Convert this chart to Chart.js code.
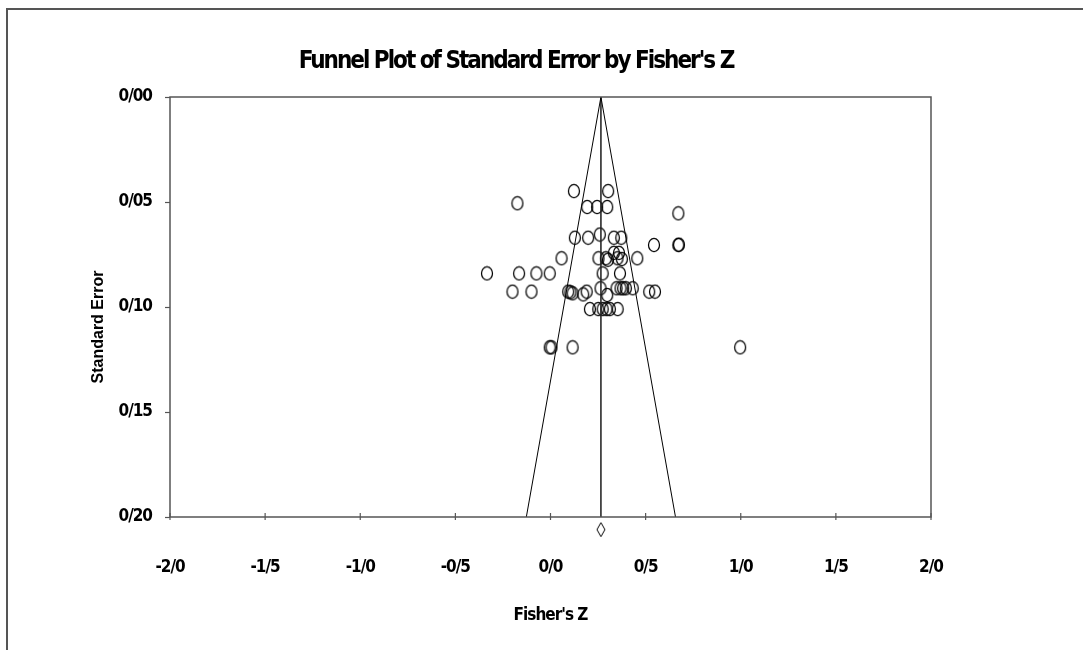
<!DOCTYPE html>
<html><head><meta charset="utf-8">
<script src="https://cdn.jsdelivr.net/npm/chart.js@4.4.1/dist/chart.umd.min.js"></script>
<style>html,body{margin:0;padding:0;background:#fff;overflow:hidden}#wrap{width:1083px;height:650px;position:relative}canvas{display:block}</style>
</head><body><div id="wrap"><canvas id="c" width="1083" height="650"></canvas></div>
<script>
const titleText = "Funnel Plot of Standard Error by Fisher's Z";
const xAxisTitle = "Fisher's Z";
const yAxisTitle = "Standard Error";
const xTickLabels = ['-2/0','-1/5','-1/0','-0/5','0/0','0/5','1/0','1/5','2/0'];
const yTickLabels = ['0/00','0/05','0/10','0/15','0/20'];

// observed studies: Fisher's Z and standard error
const studyZ = [0.123,0.303,-0.174,0.193,0.245,0.298,0.672,0.128,0.198,0.259,0.333,0.372,0.544,0.672,0.675,0.333,0.360,
  0.058,0.252,0.291,0.302,0.352,0.375,0.456,-0.334,-0.165,-0.074,-0.004,0.274,0.365,-0.200,-0.100,0.093,0.105,0.116,0.172,0.190,
  0.263,0.298,0.347,0.368,0.382,0.396,0.432,0.519,0.549,0.207,0.251,0.274,0.295,0.312,0.353,-0.004,0.005,0.116,0.997];
const studySE = [0.0448,0.0448,0.0506,0.0524,0.0524,0.0524,0.0554,0.0670,0.0670,0.0655,0.0670,0.0670,0.0705,0.0705,0.0703,0.0742,0.0742,
  0.0768,0.0768,0.0768,0.0775,0.0768,0.0772,0.0768,0.0840,0.0840,0.0840,0.0840,0.0840,0.0840,0.0927,0.0927,0.0927,0.0930,0.0935,0.0940,0.0927,
  0.0911,0.0943,0.0911,0.0911,0.0911,0.0911,0.0911,0.0927,0.0927,0.1010,0.1010,0.1010,0.1010,0.1010,0.1010,0.1192,0.1192,0.1192,0.1192];

// funnel (pooled estimate and 95% limits)
const funnelLeftZ = [0.265, -0.127];
const funnelRightZ = [0.265, 0.657];
const centerZ = [0.265, 0.265];
const funnelSE = [0, 0.2];
const summaryZ = [0.265];
const summarySE = [0.206];

function ellipseStyle(){
  const c = document.createElement('canvas'); c.width = 14; c.height = 16;
  const g = c.getContext('2d'); g.strokeStyle = '#000'; g.lineWidth = 1.25;
  g.beginPath(); g.ellipse(7, 8, 5.5, 6.6, 0, 0, Math.PI*2); g.stroke(); return c;
}
function diamondStyle(){
  const c = document.createElement('canvas'); c.width = 10; c.height = 16;
  const g = c.getContext('2d'); g.strokeStyle = '#000'; g.lineWidth = 1;
  g.beginPath(); g.moveTo(5,1); g.lineTo(9,8); g.lineTo(5,15); g.lineTo(1,8); g.closePath(); g.stroke(); return c;
}
const pts = studyZ.map((z,i)=>({x:z, y:studySE[i]}));
const mk = (xs, ys) => xs.map((x,i)=>({x:x, y:ys[i]}));
const NARROW = "'DejaVu Sans Condensed','Liberation Sans Narrow','Arial Narrow',sans-serif";
const GRAY = '#555';

const decor = {
  id:'decor',
  beforeDraw(chart){
    const ctx = chart.ctx; ctx.save();
    ctx.fillStyle='#fff'; ctx.fillRect(0,0,chart.width,chart.height);
    ctx.strokeStyle=GRAY; ctx.lineWidth=2;
    ctx.beginPath(); ctx.moveTo(7,650); ctx.lineTo(7,9); ctx.lineTo(1083,9); ctx.stroke();
    ctx.restore();
    try { ctx.letterSpacing = '-1px'; } catch(e){}
  },
  afterDraw(chart){
    const ctx = chart.ctx, a = chart.chartArea, xs = chart.scales.x;
    ctx.save();
    ctx.strokeStyle=GRAY; ctx.lineWidth=1.5;
    ctx.strokeRect(a.left, a.top, a.right-a.left, a.bottom-a.top);
    ctx.lineWidth=1.2;
    xs.ticks.forEach(t=>{ const px = xs.getPixelForValue(t.value);
      ctx.beginPath(); ctx.moveTo(px, a.bottom-4); ctx.lineTo(px, a.bottom+3); ctx.stroke(); });
    ctx.fillStyle='#000'; ctx.font = "bold 24px " + NARROW;
    ctx.textAlign='center'; ctx.textBaseline='middle';
    try { ctx.letterSpacing = '-2px'; } catch(e){}
    ctx.fillText(titleText, 516, 62);
    try { ctx.letterSpacing = '0px'; } catch(e){}
    ctx.font = "bold 16px 'Liberation Sans',Arial,sans-serif";
    ctx.translate(99, 327); ctx.rotate(-Math.PI/2);
    ctx.fillText(yAxisTitle, 0, 0);
    ctx.restore();
  }
};

new Chart(document.getElementById('c'), {
  type:'scatter',
  data:{ datasets:[
    {data:mk(funnelLeftZ, funnelSE), showLine:true, borderColor:'#000', borderWidth:1, pointRadius:0},
    {data:mk(funnelRightZ, funnelSE), showLine:true, borderColor:'#000', borderWidth:1, pointRadius:0},
    {data:mk(centerZ, funnelSE), showLine:true, borderColor:'#222', borderWidth:0.8, pointRadius:0},
    {data:pts, pointStyle:ellipseStyle(), pointRadius:5, borderColor:'#000', backgroundColor:'transparent'},
    {data:mk(summaryZ, summarySE), pointStyle:diamondStyle(), pointRadius:40, clip:false}
  ]},
  options:{
    responsive:false, animation:false, devicePixelRatio:1,
    layout:{padding:{top:97,right:152,bottom:0,left:0}},
    plugins:{legend:{display:false}, tooltip:{enabled:false}, title:{display:false}},
    scales:{
      x:{ type:'linear', min:-2, max:2,
        afterFit(s){ s.height = 133; },
        afterBuildTicks(s){ s.ticks = xTickLabels.map((_,i)=>({value:-2+0.5*i})); },
        grid:{display:true, drawOnChartArea:false, drawTicks:false},
        border:{display:false},
        ticks:{ padding:40, color:'#000', font:{family:NARROW, weight:'bold', size:17},
          callback:(v,i)=>xTickLabels[i] },
        title:{display:true, text:xAxisTitle, color:'#000', font:{family:NARROW, weight:'bold', size:17}, padding:{top:0,bottom:24}}
      },
      y:{ type:'linear', min:0, max:0.2, reverse:true,
        afterFit(s){ s.width = 170; },
        afterBuildTicks(s){ s.ticks = yTickLabels.map((_,i)=>({value:0.05*i})); },
        grid:{display:true, drawOnChartArea:false, drawTicks:true, tickLength:5, tickColor:GRAY, tickWidth:1.2},
        border:{display:false},
        ticks:{ padding:13, color:'#000', font:{family:NARROW, weight:'bold', size:17},
          callback:(v,i)=>yTickLabels[i] }
      }
    }
  },
  plugins:[decor]
});
</script></body></html>
